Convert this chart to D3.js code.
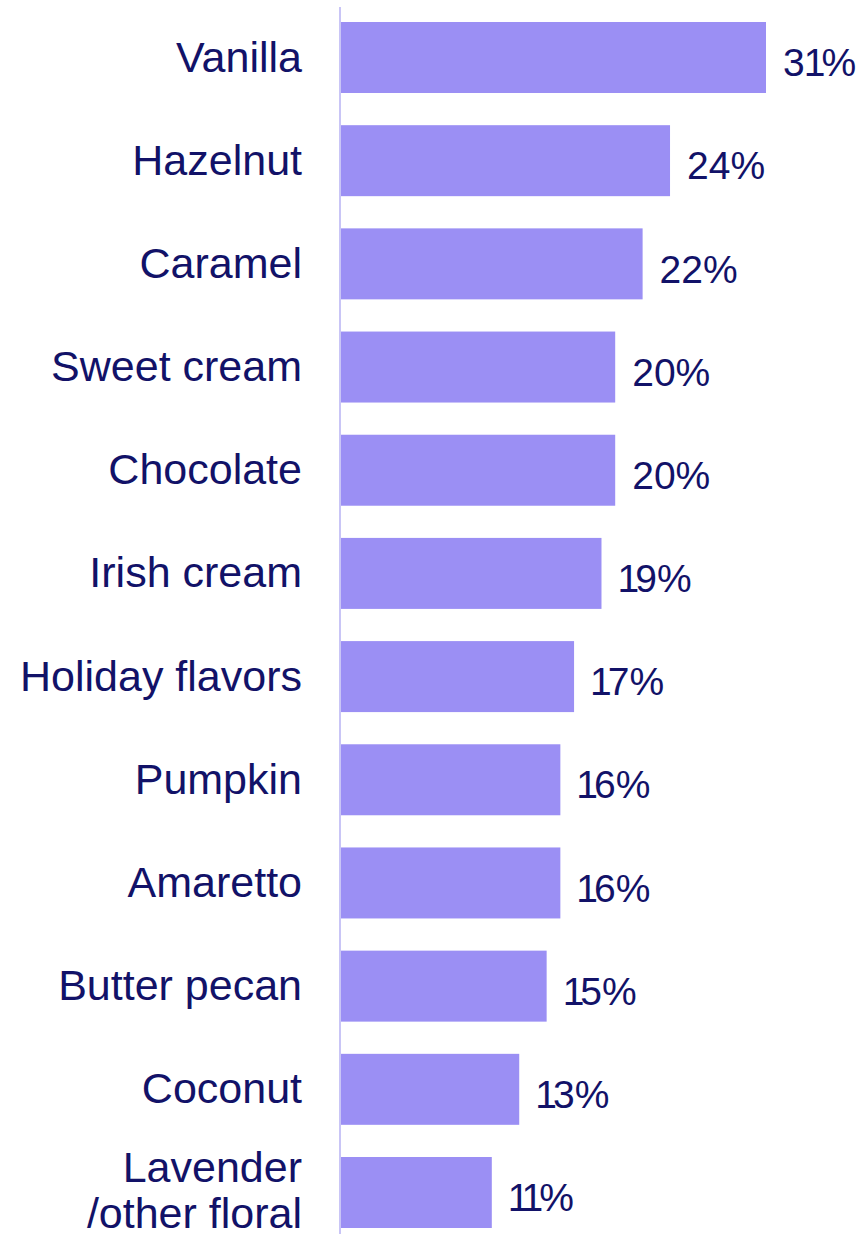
<!DOCTYPE html>
<html>
<head>
<meta charset="utf-8">
<script src="https://cdn.jsdelivr.net/npm/d3@7"></script>
<style>
  html, body { margin: 0; padding: 0; background: #ffffff; }
  svg { display: block; }
</style>
</head>
<body>
<script>
// Favourite coffee flavours, share of respondents (%)
const categories = [
  "Vanilla", "Hazelnut", "Caramel", "Sweet cream", "Chocolate", "Irish cream",
  "Holiday flavors", "Pumpkin", "Amaretto", "Butter pecan", "Coconut",
  "Lavender\n/other floral"
];
const values = [31, 24, 22, 20, 20, 19, 17, 16, 16, 15, 13, 11];
const valueLabels = values.map(v => v + "%");

const width = 858, height = 1234;
const barColor = "#9b8ff4";
const textColor = "#121268";
const axisColor = "#c9c5f6";

const svg = d3.select("body").append("svg")
  .attr("width", width)
  .attr("height", height);

const x = d3.scaleLinear().domain([0, 31]).range([341, 766]);
const y = d3.scaleBand()
  .domain(categories)
  .range([22, 1228])
  .paddingInner(0.312)
  .paddingOuter(0);

const data = categories.map((c, i) => ({ cat: c, value: values[i], label: valueLabels[i] }));

// Bars
svg.append("g").selectAll("rect")
  .data(data)
  .join("rect")
  .attr("x", x(0))
  .attr("y", d => y(d.cat))
  .attr("width", d => x(d.value) - x(0))
  .attr("height", y.bandwidth())
  .attr("fill", barColor);

// Vertical baseline
svg.append("line")
  .attr("x1", 340).attr("x2", 340)
  .attr("y1", 7).attr("y2", height)
  .attr("stroke", axisColor)
  .attr("stroke-width", 2);

// Category labels (multi-line where the name contains a break)
const labels = svg.append("g")
  .attr("font-family", "'Liberation Sans', Arial, sans-serif")
  .attr("font-size", 43)
  .attr("fill", textColor)
  .attr("text-anchor", "end");

data.forEach(d => {
  const lines = d.cat.split("\n");
  const lh = 46;
  const shift = lines.length > 1 ? -3 : -1;
  const cy = y(d.cat) + y.bandwidth() / 2;
  const t = labels.append("text");
  lines.forEach((ln, k) => {
    t.append("tspan")
      .attr("x", 302)
      .attr("y", cy + (k - (lines.length - 1) / 2) * lh + shift)
      .attr("dy", "0.35em")
      .text(ln);
  });
});

// Value labels; the "1" gets slightly tighter spacing via per-glyph dx
function glyphShifts(s) {
  const chars = s.split("");
  return chars.map((ch, i) => {
    let dx = 0;
    if (ch === "1") dx -= 1;
    if (i > 0 && chars[i - 1] === "1") dx -= 4;
    return dx;
  }).join(" ");
}

svg.append("g")
  .attr("font-family", "'Liberation Sans', Arial, sans-serif")
  .attr("font-size", 39)
  .attr("fill", textColor)
  .selectAll("text")
  .data(data)
  .join("text")
  .attr("x", d => x(d.value) + 17)
  .attr("y", d => y(d.cat) + y.bandwidth() / 2 + 5)
  .attr("dy", "0.35em")
  .attr("dx", d => glyphShifts(d.label))
  .text(d => d.label);
</script>
</body>
</html>
